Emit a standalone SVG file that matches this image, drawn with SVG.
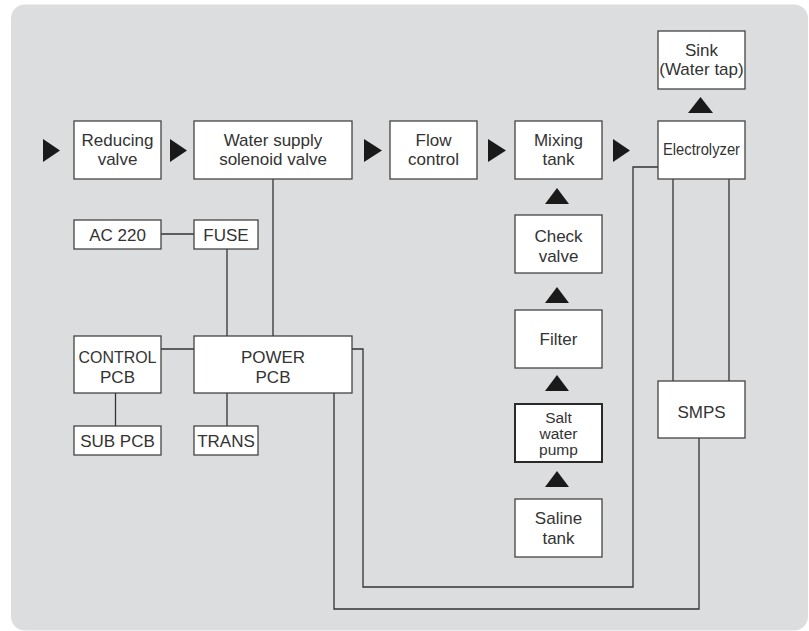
<svg xmlns="http://www.w3.org/2000/svg" width="809" height="631" viewBox="0 0 809 631">
<style>
.box{fill:#ffffff;stroke:#444444;stroke-width:1.3}
.thick{stroke:#2a2a2a;stroke-width:2}
.t{font-family:"Liberation Sans",Arial,sans-serif;font-size:17px;fill:#333333;text-anchor:middle}
.s{font-size:15.5px}
.arr{fill:#1a1a1a}
.ln{fill:none;stroke:#333333;stroke-width:1.3}
</style>
<rect x="11" y="4.5" width="797" height="626" rx="14" ry="14" fill="#dcdddf"/>
<g id="connectors">
<path class="ln" d="M161 234H194"/>
<path class="ln" d="M227 249V336"/>
<path class="ln" d="M273 179V336"/>
<path class="ln" d="M161 349H194"/>
<path class="ln" d="M115.5 393V426"/>
<path class="ln" d="M227 393V426"/>
<path class="ln" d="M352 349H363V587H633V167H658"/>
<path class="ln" d="M334 393V609H699V438"/>
<path class="ln" d="M673 179V381"/>
<path class="ln" d="M729 179V381"/>
<polygon class="arr" points="43,139 60,150.5 43,162"/>
<polygon class="arr" points="170,139 187,150.5 170,162"/>
<polygon class="arr" points="364,139 382,150.5 364,162"/>
<polygon class="arr" points="488,139 506,150.5 488,162"/>
<polygon class="arr" points="613,139 630,150.5 613,162"/>
<polygon class="arr" points="700.5,97 688,113 713,113"/>
<polygon class="arr" points="557,188 545,204 569,204"/>
<polygon class="arr" points="557,287 545,303 569,303"/>
<polygon class="arr" points="557,375 545,391 569,391"/>
<polygon class="arr" points="557,471 545,487 569,487"/>
</g>
<g id="reducing-valve"><rect class="box" x="74" y="121" width="87" height="58"/><text class="t" x="117.5" y="146">Reducing</text><text class="t" x="117.5" y="165">valve</text></g>
<g id="solenoid-valve"><rect class="box" x="194" y="121" width="158" height="58"/><text class="t" x="273" y="146">Water supply</text><text class="t" x="273" y="165">solenoid valve</text></g>
<g id="flow-control"><rect class="box" x="390" y="121" width="87" height="58"/><text class="t" x="433.5" y="146">Flow</text><text class="t" x="433.5" y="165">control</text></g>
<g id="mixing-tank"><rect class="box" x="515" y="121" width="87" height="58"/><text class="t" x="558.5" y="146">Mixing</text><text class="t" x="558.5" y="165">tank</text></g>
<g id="electrolyzer"><rect class="box" x="658" y="121" width="87" height="58"/><text class="t" x="701.5" y="155" textLength="77" lengthAdjust="spacingAndGlyphs">Electrolyzer</text></g>
<g id="sink"><rect class="box" x="658" y="31" width="87" height="58"/><text class="t" x="701.5" y="56">Sink</text><text class="t" x="701.5" y="75">(Water tap)</text></g>
<g id="check-valve"><rect class="box" x="515" y="215" width="87" height="58"/><text class="t" x="558.5" y="242">Check</text><text class="t" x="558.5" y="262">valve</text></g>
<g id="filter"><rect class="box" x="515" y="310" width="87" height="58"/><text class="t" x="558.5" y="345">Filter</text></g>
<g id="salt-water-pump"><rect class="box thick" x="515" y="404" width="87" height="58"/><text class="t s" x="558.5" y="423">Salt</text><text class="t s" x="558.5" y="439">water</text><text class="t s" x="558.5" y="455">pump</text></g>
<g id="saline-tank"><rect class="box" x="515" y="499" width="87" height="58"/><text class="t" x="558.5" y="524">Saline</text><text class="t" x="558.5" y="544">tank</text></g>
<g id="smps"><rect class="box" x="658" y="381" width="87" height="57"/><text class="t" x="701.5" y="418">SMPS</text></g>
<g id="ac220"><rect class="box" x="74" y="220" width="87" height="29"/><text class="t" x="117.5" y="241">AC 220</text></g>
<g id="fuse"><rect class="box" x="194" y="220" width="64" height="29"/><text class="t" x="226" y="241">FUSE</text></g>
<g id="control-pcb"><rect class="box" x="74" y="336" width="87" height="57"/><text class="t" x="117.5" y="363" textLength="78" lengthAdjust="spacingAndGlyphs">CONTROL</text><text class="t" x="117.5" y="383">PCB</text></g>
<g id="power-pcb"><rect class="box" x="194" y="336" width="158" height="57"/><text class="t" x="273" y="363">POWER</text><text class="t" x="273" y="383">PCB</text></g>
<g id="sub-pcb"><rect class="box" x="74" y="426" width="87" height="29"/><text class="t" x="117.5" y="447">SUB PCB</text></g>
<g id="trans"><rect class="box" x="194" y="426" width="64" height="29"/><text class="t" x="226" y="447">TRANS</text></g>
</svg>
